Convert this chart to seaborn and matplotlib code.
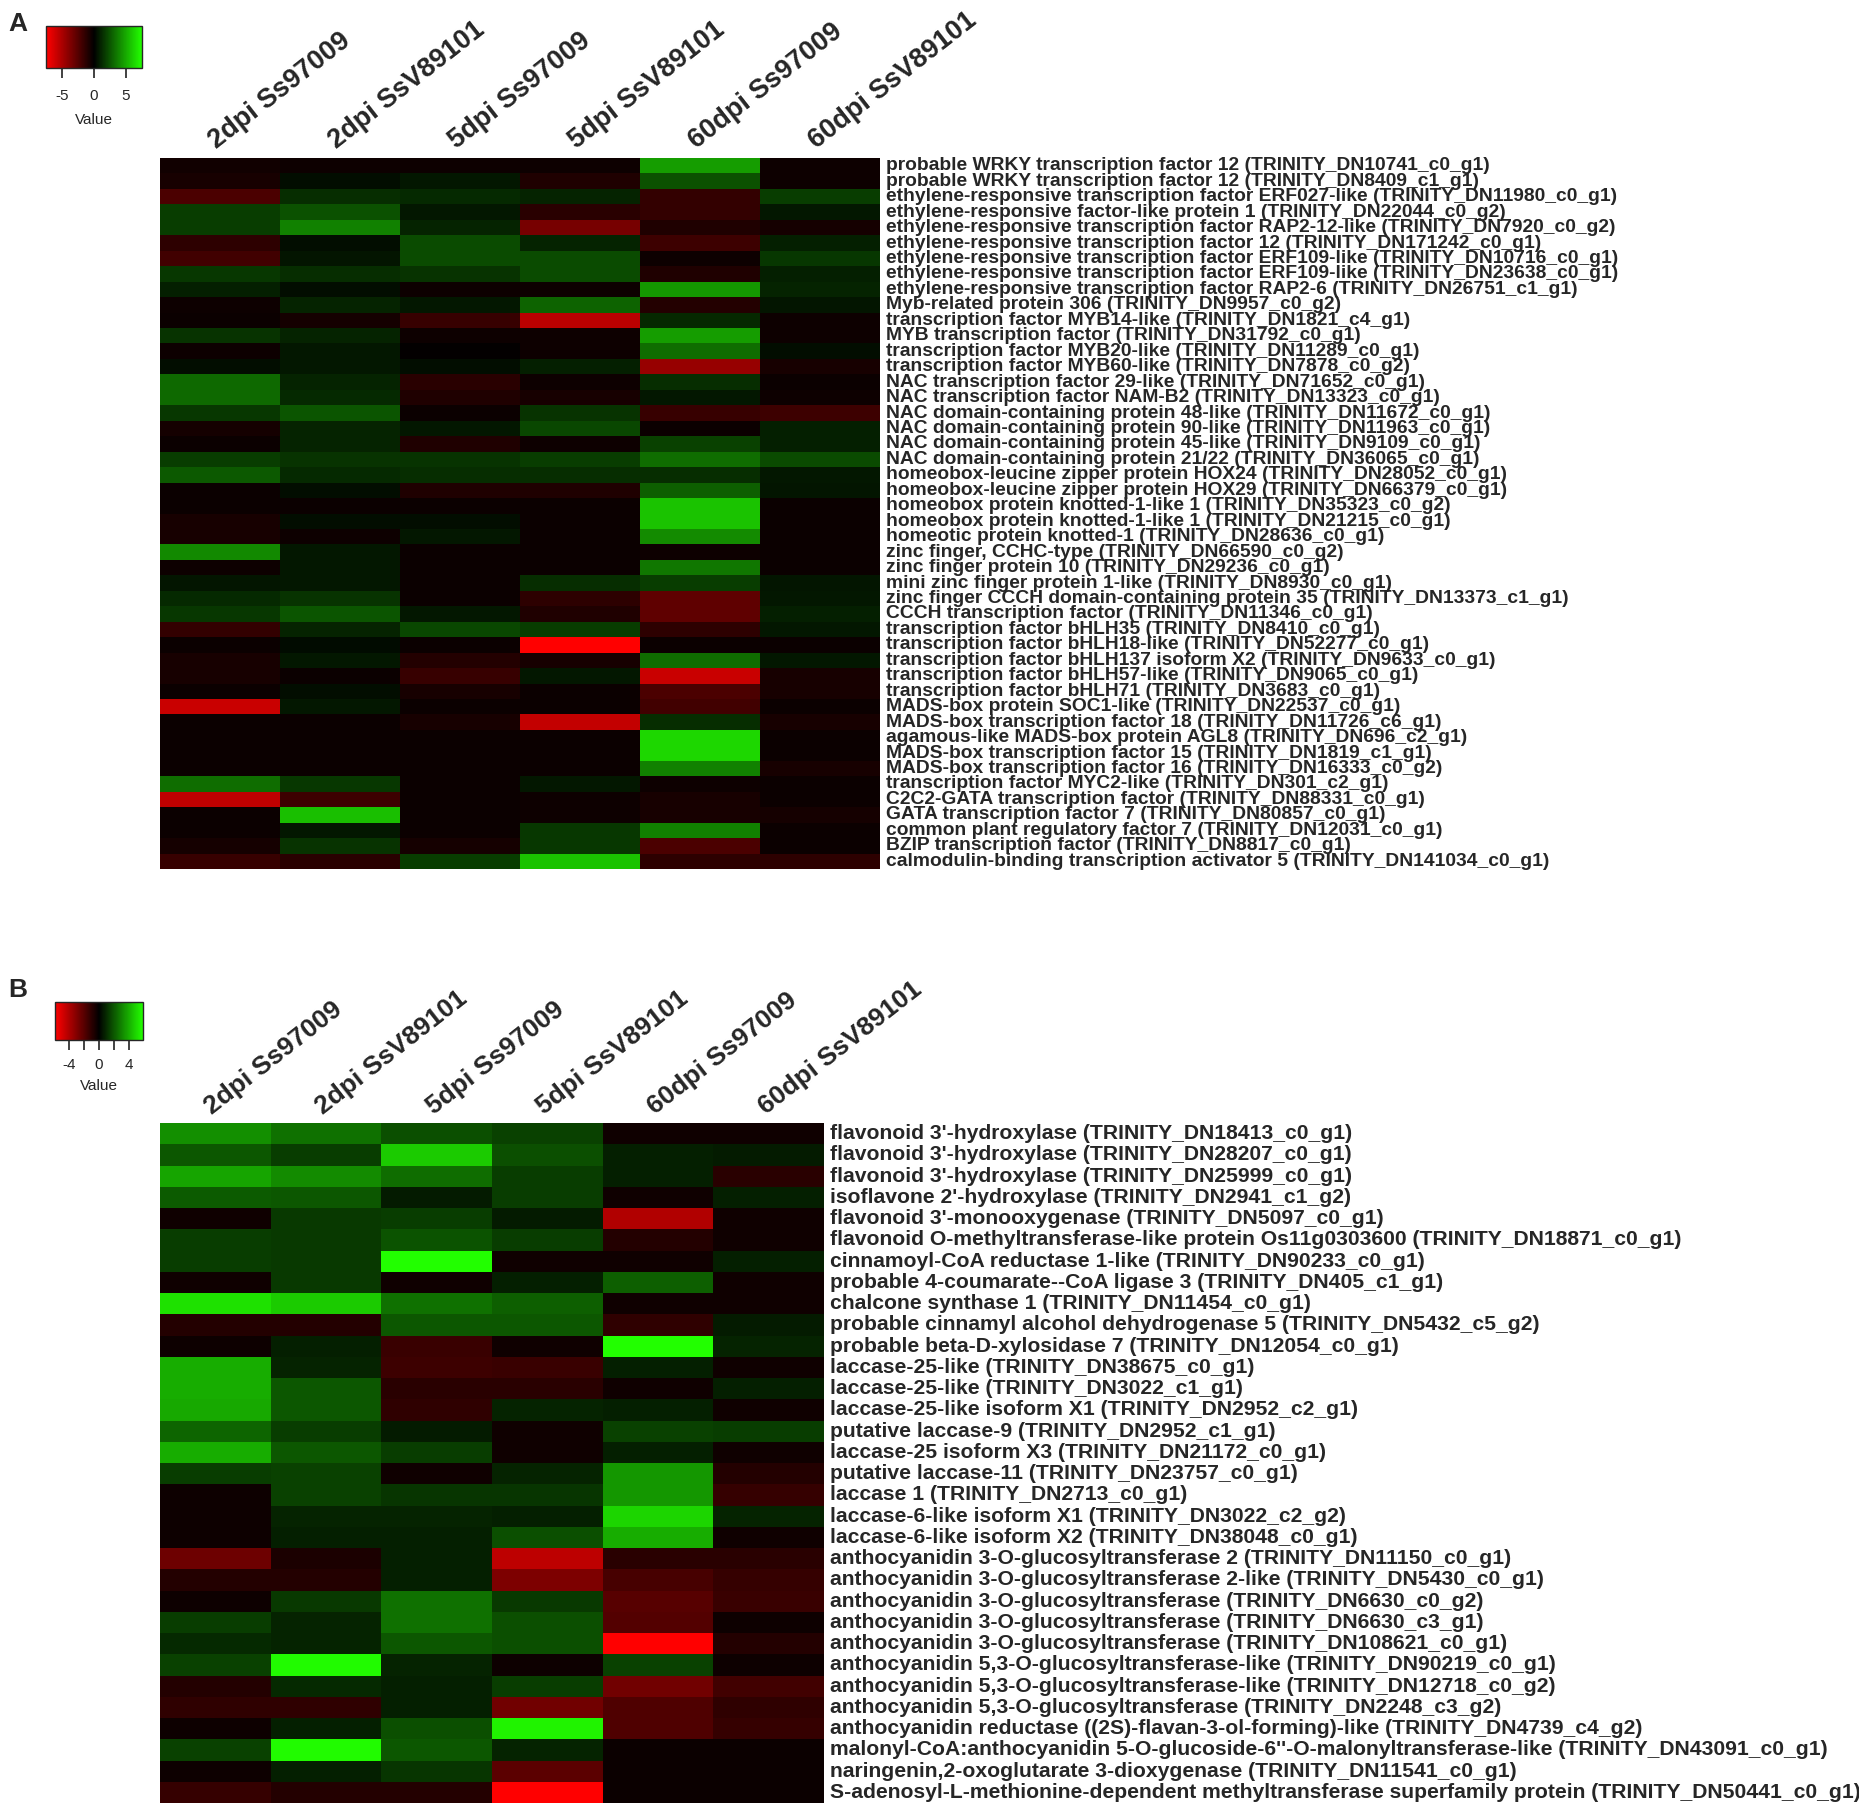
import numpy as np
import pandas as pd
import matplotlib
matplotlib.use("Agg")
import matplotlib.pyplot as plt
import seaborn as sns
from matplotlib.colors import LinearSegmentedColormap, Normalize
from matplotlib.cm import ScalarMappable

# Columns (same for both panels)
conditions = ["2dpi Ss97009", "2dpi SsV89101", "5dpi Ss97009",
              "5dpi SsV89101", "60dpi Ss97009", "60dpi SsV89101"]

# Panel A: transcription factors
tf_genes = [
    "probable WRKY transcription factor 12 (TRINITY_DN10741_c0_g1)",
    "probable WRKY transcription factor 12 (TRINITY_DN8409_c1_g1)",
    "ethylene-responsive transcription factor ERF027-like (TRINITY_DN11980_c0_g1)",
    "ethylene-responsive factor-like protein 1 (TRINITY_DN22044_c0_g2)",
    "ethylene-responsive transcription factor RAP2-12-like (TRINITY_DN7920_c0_g2)",
    "ethylene-responsive transcription factor 12 (TRINITY_DN171242_c0_g1)",
    "ethylene-responsive transcription factor ERF109-like (TRINITY_DN10716_c0_g1)",
    "ethylene-responsive transcription factor ERF109-like (TRINITY_DN23638_c0_g1)",
    "ethylene-responsive transcription factor RAP2-6 (TRINITY_DN26751_c1_g1)",
    "Myb-related protein 306 (TRINITY_DN9957_c0_g2)",
    "transcription factor MYB14-like (TRINITY_DN1821_c4_g1)",
    "MYB transcription factor (TRINITY_DN31792_c0_g1)",
    "transcription factor MYB20-like (TRINITY_DN11289_c0_g1)",
    "transcription factor MYB60-like (TRINITY_DN7878_c0_g2)",
    "NAC transcription factor 29-like (TRINITY_DN71652_c0_g1)",
    "NAC transcription factor NAM-B2 (TRINITY_DN13323_c0_g1)",
    "NAC domain-containing protein 48-like (TRINITY_DN11672_c0_g1)",
    "NAC domain-containing protein 90-like (TRINITY_DN11963_c0_g1)",
    "NAC domain-containing protein 45-like (TRINITY_DN9109_c0_g1)",
    "NAC domain-containing protein 21/22 (TRINITY_DN36065_c0_g1)",
    "homeobox-leucine zipper protein HOX24 (TRINITY_DN28052_c0_g1)",
    "homeobox-leucine zipper protein HOX29 (TRINITY_DN66379_c0_g1)",
    "homeobox protein knotted-1-like 1 (TRINITY_DN35323_c0_g2)",
    "homeobox protein knotted-1-like 1 (TRINITY_DN21215_c0_g1)",
    "homeotic protein knotted-1 (TRINITY_DN28636_c0_g1)",
    "zinc finger, CCHC-type (TRINITY_DN66590_c0_g2)",
    "zinc finger protein 10 (TRINITY_DN29236_c0_g1)",
    "mini zinc finger protein 1-like (TRINITY_DN8930_c0_g1)",
    "zinc finger CCCH domain-containing protein 35 (TRINITY_DN13373_c1_g1)",
    "CCCH transcription factor (TRINITY_DN11346_c0_g1)",
    "transcription factor bHLH35 (TRINITY_DN8410_c0_g1)",
    "transcription factor bHLH18-like (TRINITY_DN52277_c0_g1)",
    "transcription factor bHLH137 isoform X2 (TRINITY_DN9633_c0_g1)",
    "transcription factor bHLH57-like (TRINITY_DN9065_c0_g1)",
    "transcription factor bHLH71 (TRINITY_DN3683_c0_g1)",
    "MADS-box protein SOC1-like (TRINITY_DN22537_c0_g1)",
    "MADS-box transcription factor 18 (TRINITY_DN11726_c6_g1)",
    "agamous-like MADS-box protein AGL8 (TRINITY_DN696_c2_g1)",
    "MADS-box transcription factor 15 (TRINITY_DN1819_c1_g1)",
    "MADS-box transcription factor 16 (TRINITY_DN16333_c0_g2)",
    "transcription factor MYC2-like (TRINITY_DN301_c2_g1)",
    "C2C2-GATA transcription factor (TRINITY_DN88331_c0_g1)",
    "GATA transcription factor 7 (TRINITY_DN80857_c0_g1)",
    "common plant regulatory factor 7 (TRINITY_DN12031_c0_g1)",
    "BZIP transcription factor (TRINITY_DN8817_c0_g1)",
    "calmodulin-binding transcription activator 5 (TRINITY_DN141034_c0_g1)",
]
tf_values = [
    [-0.5, -0.4, -0.4, -0.4, 4.6, -0.4],
    [-0.7, 0.4, 0.7, -0.9, 2.4, -0.4],
    [-2.2, 1.3, 1.2, 1.0, -1.5, 1.8],
    [1.8, 2.4, 0.7, -1.2, -1.5, 0.7],
    [1.8, 3.8, 1.0, -3.5, -0.9, -0.6],
    [-1.3, 0.4, 2.2, 1.0, -1.8, 0.9],
    [-1.9, 0.6, 2.2, 2.2, -0.4, 1.6],
    [1.6, 1.3, 1.5, 2.2, -0.9, 0.9],
    [0.9, 0.4, -0.4, -0.4, 4.4, 1.0],
    [-0.4, 1.0, 0.7, 2.9, -1.0, 0.6],
    [-0.35, -0.6, -1.6, -5.4, 1.2, -0.4],
    [1.5, 1.0, -0.4, -0.4, 4.6, -0.4],
    [-0.4, 0.7, -0.1, -0.4, 3.2, 0.4],
    [0.4, 0.7, 0.4, 0.9, -4.4, -0.7],
    [3.1, 1.0, -1.2, -0.4, 1.3, -0.35],
    [3.1, 1.2, -0.9, -0.7, 0.7, -0.4],
    [1.6, 2.5, -0.3, 1.5, -1.6, -1.8],
    [-0.6, 1.0, 0.7, 2.1, -0.3, 0.9],
    [-0.3, 1.0, -0.9, -0.4, 1.9, 0.9],
    [1.8, 1.5, 1.5, 1.8, 3.2, 2.2],
    [2.6, 1.2, 1.3, 1.3, 1.3, 0.7],
    [-0.3, 0.4, -0.9, -0.9, 2.8, 0.6],
    [-0.35, -0.3, -0.3, -0.3, 5.7, -0.3],
    [-0.7, 0.4, 0.4, -0.3, 5.7, -0.3],
    [-0.7, -0.4, 0.7, -0.3, 4.1, -0.3],
    [4.0, 0.7, -0.3, -0.3, -0.4, -0.3],
    [-0.4, 0.7, -0.3, -0.3, 3.5, -0.3],
    [0.6, 0.7, -0.3, 1.3, 1.8, 0.6],
    [1.2, 1.5, -0.3, -1.3, -2.8, 0.7],
    [1.6, 2.5, 0.7, -0.9, -2.8, 0.9],
    [-1.5, 1.0, 2.1, 1.8, -1.3, 0.7],
    [-0.3, 0.35, -0.3, -7.5, -0.35, -0.3],
    [-0.65, 0.7, -1.0, -0.7, 3.2, 0.65],
    [-0.7, -0.3, -1.6, 0.7, -5.9, -0.7],
    [-0.3, 0.4, -0.7, -0.3, -2.2, -0.7],
    [-5.9, 0.7, -0.35, -0.3, -1.9, -0.35],
    [-0.3, -0.3, -0.7, -5.7, 1.3, -0.7],
    [-0.3, -0.3, -0.3, -0.3, 6.3, -0.35],
    [-0.3, -0.3, -0.3, -0.3, 6.3, -0.35],
    [-0.3, -0.3, -0.3, -0.3, 3.8, -0.7],
    [3.2, 1.6, -0.3, 0.7, -0.4, -0.35],
    [-5.6, -1.8, -0.3, -0.4, -0.7, -0.35],
    [-0.3, 5.6, -0.3, -0.4, -0.7, -0.6],
    [-0.3, 0.7, -0.3, 1.6, 3.8, -0.3],
    [-0.6, 1.5, -0.6, 1.6, -2.2, -0.3],
    [-1.6, -1.2, 1.8, 5.7, -1.3, -1.3],
]

# Panel B: flavonoid / phenylpropanoid genes
flav_genes = [
    "flavonoid 3'-hydroxylase (TRINITY_DN18413_c0_g1)",
    "flavonoid 3'-hydroxylase (TRINITY_DN28207_c0_g1)",
    "flavonoid 3'-hydroxylase (TRINITY_DN25999_c0_g1)",
    "isoflavone 2'-hydroxylase (TRINITY_DN2941_c1_g2)",
    "flavonoid 3'-monooxygenase (TRINITY_DN5097_c0_g1)",
    "flavonoid O-methyltransferase-like protein Os11g0303600 (TRINITY_DN18871_c0_g1)",
    "cinnamoyl-CoA reductase 1-like (TRINITY_DN90233_c0_g1)",
    "probable 4-coumarate--CoA ligase 3 (TRINITY_DN405_c1_g1)",
    "chalcone synthase 1 (TRINITY_DN11454_c0_g1)",
    "probable cinnamyl alcohol dehydrogenase 5 (TRINITY_DN5432_c5_g2)",
    "probable beta-D-xylosidase 7 (TRINITY_DN12054_c0_g1)",
    "laccase-25-like (TRINITY_DN38675_c0_g1)",
    "laccase-25-like (TRINITY_DN3022_c1_g1)",
    "laccase-25-like isoform X1 (TRINITY_DN2952_c2_g1)",
    "putative laccase-9 (TRINITY_DN2952_c1_g1)",
    "laccase-25 isoform X3 (TRINITY_DN21172_c0_g1)",
    "putative laccase-11 (TRINITY_DN23757_c0_g1)",
    "laccase 1 (TRINITY_DN2713_c0_g1)",
    "laccase-6-like isoform X1 (TRINITY_DN3022_c2_g2)",
    "laccase-6-like isoform X2 (TRINITY_DN38048_c0_g1)",
    "anthocyanidin 3-O-glucosyltransferase 2 (TRINITY_DN11150_c0_g1)",
    "anthocyanidin 3-O-glucosyltransferase 2-like (TRINITY_DN5430_c0_g1)",
    "anthocyanidin 3-O-glucosyltransferase (TRINITY_DN6630_c0_g2)",
    "anthocyanidin 3-O-glucosyltransferase (TRINITY_DN6630_c3_g1)",
    "anthocyanidin 3-O-glucosyltransferase (TRINITY_DN108621_c0_g1)",
    "anthocyanidin 5,3-O-glucosyltransferase-like (TRINITY_DN90219_c0_g1)",
    "anthocyanidin 5,3-O-glucosyltransferase-like (TRINITY_DN12718_c0_g2)",
    "anthocyanidin 5,3-O-glucosyltransferase (TRINITY_DN2248_c3_g2)",
    "anthocyanidin reductase ((2S)-flavan-3-ol-forming)-like (TRINITY_DN4739_c4_g2)",
    "malonyl-CoA:anthocyanidin 5-O-glucoside-6''-O-malonyltransferase-like (TRINITY_DN43091_c0_g1)",
    "naringenin,2-oxoglutarate 3-dioxygenase (TRINITY_DN11541_c0_g1)",
    "S-adenosyl-L-methionine-dependent methyltransferase superfamily protein (TRINITY_DN50441_c0_g1)",
]
flav_values = [
    [3.3, 2.6, 1.8, 1.5, -0.35, -0.35],
    [2.0, 1.4, 4.7, 1.8, 0.7, 0.6],
    [3.8, 3.2, 2.5, 1.4, 0.7, -0.95],
    [2.1, 2.0, 0.6, 1.4, -0.35, 0.7],
    [-0.35, 1.3, 1.4, 0.6, -4.1, -0.35],
    [1.4, 1.3, 1.9, 1.4, -0.8, -0.35],
    [1.4, 1.3, 6.0, -0.35, -0.35, 0.7],
    [-0.35, 1.3, -0.35, 0.7, 2.2, -0.35],
    [5.2, 4.7, 2.6, 2.2, -0.35, -0.35],
    [-0.8, -0.8, 2.0, 2.0, -1.1, 0.6],
    [-0.3, 0.7, -1.3, -0.35, 6.0, 0.8],
    [4.0, 0.8, -1.4, -1.3, 0.7, -0.35],
    [4.0, 2.0, -0.95, -0.95, -0.35, 0.7],
    [3.9, 2.0, -1.1, 0.8, 0.7, -0.35],
    [2.35, 1.4, 0.6, -0.35, 1.5, 1.4],
    [4.0, 2.0, 1.4, -0.35, 0.7, -0.35],
    [1.4, 1.5, -0.35, 0.8, 3.5, -0.8],
    [-0.3, 1.5, 1.2, 1.2, 3.5, -1.2],
    [-0.3, 0.8, 0.8, 0.7, 4.9, 0.8],
    [-0.3, 0.7, 0.7, 1.8, 4.0, -0.35],
    [-2.5, -0.6, 0.7, -4.35, -0.95, -0.95],
    [-0.8, -0.8, 0.7, -2.9, -1.65, -1.2],
    [-0.3, 1.3, 2.6, 1.3, -2.0, -1.3],
    [1.4, 0.8, 2.6, 1.8, -1.9, -0.3],
    [0.95, 0.8, 2.0, 1.8, -6.0, -0.8],
    [1.5, 5.8, 0.8, -0.3, 1.5, -0.3],
    [-0.8, 0.95, 0.7, 1.4, -2.6, -1.5],
    [-1.1, -1.1, 0.7, -2.6, -1.8, -1.1],
    [-0.3, 0.7, 1.8, 5.6, -1.8, -1.2],
    [1.5, 5.8, 2.0, 0.8, -0.25, -0.25],
    [-0.3, 0.7, 1.2, -2.1, -0.25, -0.25],
    [-1.2, -0.8, -0.8, -6.0, -0.25, -0.25],
]

W, H = 1859, 1816
redgreen = LinearSegmentedColormap.from_list("redgreen", ["#ff0000", "#000000", "#22ff00"])

sns.set_style("white")
plt.rcParams["font.family"] = ["Liberation Sans", "DejaVu Sans"]
narrow = ["Liberation Sans Narrow", "Liberation Sans", "DejaVu Sans"]

fig = plt.figure(figsize=(W / 100, H / 100), dpi=100)


def px_rect(x0, y0, x1, y1):
    return [x0 / W, 1 - y1 / H, (x1 - x0) / W, (y1 - y0) / H]


def draw_panel(hm_box, key_box, genes, values, lim, key_ticks, key_labels,
               row_fs, col_fs, key_pad, value_pad):
    ax = fig.add_axes(px_rect(*hm_box))
    df = pd.DataFrame(values, index=genes, columns=conditions)
    sns.heatmap(df, ax=ax, cmap=redgreen, vmin=-lim, vmax=lim, cbar=False,
                xticklabels=True, yticklabels=True)
    ax.yaxis.tick_right()
    ax.set_yticklabels(genes, rotation=0, fontsize=row_fs, fontweight="bold",
                       family=narrow, va="center")
    ax.xaxis.tick_top()
    ax.set_xticklabels(conditions, rotation=38, ha="left", va="bottom",
                       rotation_mode="anchor", fontsize=col_fs, fontweight="bold")
    ax.tick_params(axis="both", length=0)
    ax.tick_params(axis="y", pad=4)
    ax.tick_params(axis="x", pad=3)
    ax.set_xlabel("")
    ax.set_ylabel("")

    # colour key
    cax = fig.add_axes(px_rect(*key_box))
    sm = ScalarMappable(norm=Normalize(-lim, lim), cmap=redgreen)
    cb = fig.colorbar(sm, cax=cax, orientation="horizontal", ticks=key_ticks)
    cb.ax.set_xticklabels(key_labels)
    cb.ax.tick_params(length=7, width=1.3, labelsize=11, pad=key_pad, color="#333333")
    cb.outline.set_linewidth(1)
    cb.set_label("Value", fontsize=11, labelpad=value_pad)


draw_panel((160, 158, 880, 869), (46, 26, 142, 68), tf_genes, tf_values,
           7.5, [-5, 0, 5], ["-5", "0", "5"], row_fs=13.9, col_fs=19.5,
           key_pad=8, value_pad=7)
draw_panel((160, 1123, 824, 1803), (55, 1002, 143, 1040), flav_genes, flav_values,
           5.9, [-4, -2, 0, 2, 4], ["-4", "", "0", "", "4"], row_fs=15.2, col_fs=19,
           key_pad=6, value_pad=5)

fig.text(8 / W, 1 - 12 / H, "A", fontsize=19, fontweight="bold", va="top", ha="left")
fig.text(8 / W, 1 - 978 / H, "B", fontsize=19, fontweight="bold", va="top", ha="left")

fig.savefig("out.png", dpi=100)
